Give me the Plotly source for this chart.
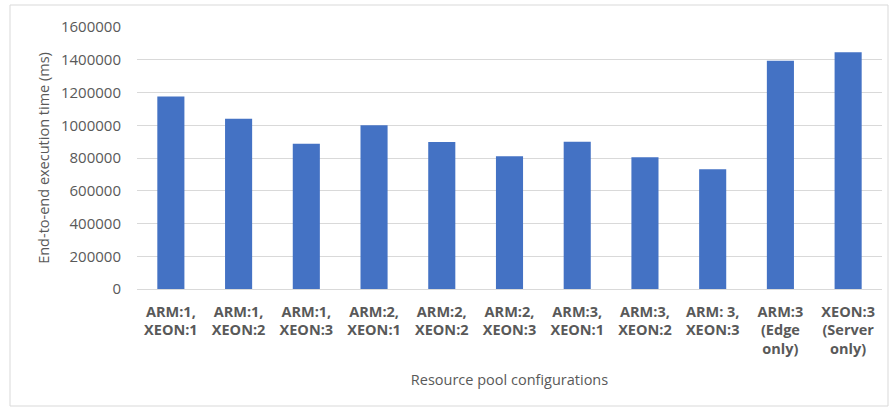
import plotly.graph_objects as go

categories = [
    "ARM:1,<br>XEON:1", "ARM:1,<br>XEON:2", "ARM:1,<br>XEON:3",
    "ARM:2,<br>XEON:1", "ARM:2,<br>XEON:2", "ARM:2,<br>XEON:3",
    "ARM:3,<br>XEON:1", "ARM:3,<br>XEON:2", "ARM: 3,<br>XEON:3",
    "ARM:3<br>(Edge<br>only)", "XEON:3<br>(Server<br>only)",
]
exec_time_ms = [1175000, 1040000, 887000, 1000000, 897000, 810000,
                899000, 804000, 731000, 1394000, 1446000]
y_ticks = [0, 200000, 400000, 600000, 800000, 1000000, 1200000, 1400000, 1600000]

gray = "#595959"
font = "Open Sans"

fig = go.Figure(go.Bar(
    x=list(range(len(categories))),
    y=exec_time_ms,
    marker=dict(color="#4472C4", line=dict(width=0)),
    width=0.4,
))

fig.update_layout(
    width=890, height=411,
    margin=dict(l=137, r=8, t=27, b=122),
    paper_bgcolor="white", plot_bgcolor="white",
    showlegend=False,
    font=dict(family=font, color=gray, size=13),
    xaxis=dict(
        tickmode="array",
        tickvals=list(range(len(categories))),
        ticktext=["<b>" + c.replace("<br>", "</b><br><b>") + "</b>" for c in categories],
        range=[-0.5, len(categories) - 0.5],
        showgrid=False, showline=False, zeroline=False,
        ticks="", tickfont=dict(size=14.5, color=gray, family=font),
        ticklabelstandoff=12,
        automargin=False,
        title=dict(text="Resource pool configurations", font=dict(size=14.5, color=gray, family=font), standoff=17),
    ),
    yaxis=dict(
        range=[0, 1600000],
        tickmode="array", tickvals=y_ticks, ticktext=[str(v) for v in y_ticks],
        showgrid=True, gridcolor="#d9d9d9", gridwidth=1,
        zeroline=True, zerolinecolor="#d9d9d9", zerolinewidth=1,
        showline=False, ticks="",
        ticklabelstandoff=15,
        automargin=False,
        tickfont=dict(size=15, color=gray, family=font),
        title=dict(text="End-to-end execution time (ms)", font=dict(size=14.5, color=gray, family=font), standoff=7),
    ),
    shapes=[dict(
        type="rect", xref="paper", yref="paper",
        x0=(10 - 137) / 745, x1=(888 - 137) / 745,
        y0=(289 - 406) / 262, y1=(289 - 5) / 262,
        line=dict(color="#d9d9d9", width=1), fillcolor="rgba(0,0,0,0)",
        layer="below",
    )],
)

fig.write_html("out.html", config={"displayModeBar": False},
               post_script="document.body.style.margin='0';")
